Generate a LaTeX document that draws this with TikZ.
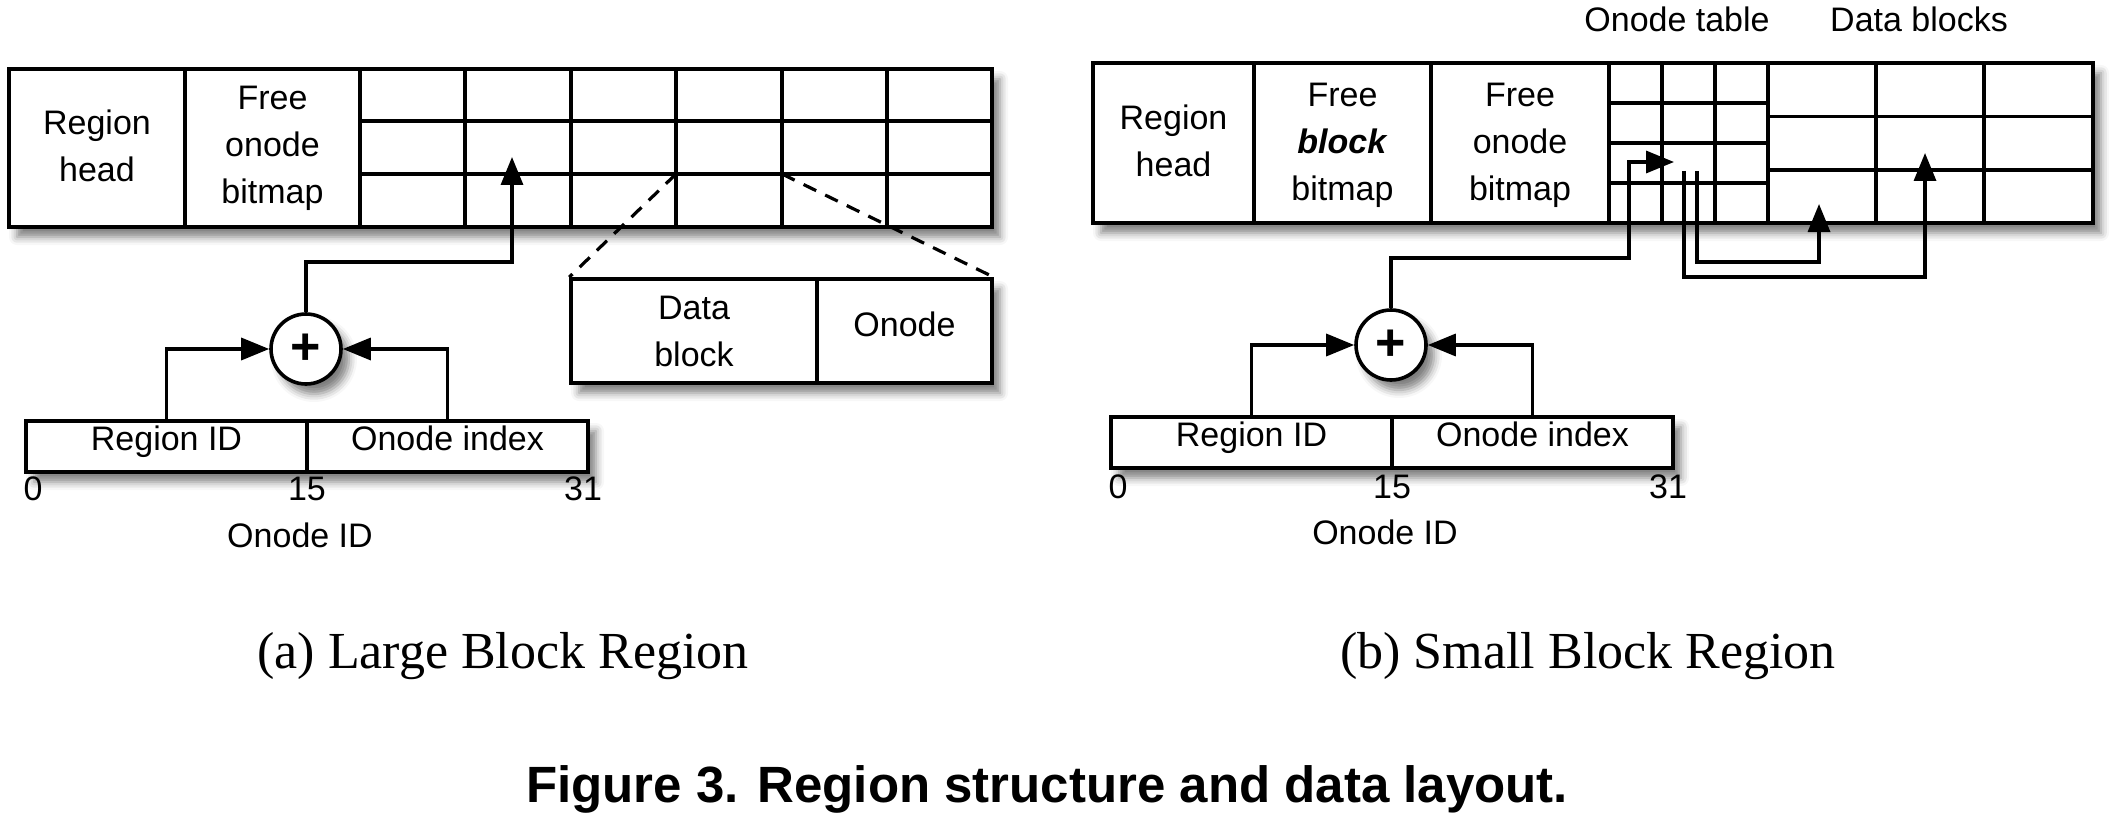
\documentclass[tikz,border=0pt]{standalone}
\usepackage{fontspec}
\setmainfont{Liberation Sans}
\newfontfamily\capfont{Liberation Serif}
\usetikzlibrary{arrows.meta,shadows.blur}

\newcommand{\dfont}{\fontsize{17pt}{23.5pt}\selectfont}

\tikzset{
  box/.style={draw, line width=1.8pt, fill=white, blur shadow={shadow xshift=4pt, shadow yshift=-5pt, shadow blur radius=4pt, shadow opacity=50}},
  gline/.style={line width=1.8pt},
  cell/.style={draw, line width=1.8pt, inner sep=0pt, font=\dfont},
  idcell/.style={cell, minimum width=140.5pt, minimum height=25.5pt, text height=12pt, text depth=8pt},
  lbl/.style={align=center, font=\dfont, inner sep=0pt},
  arr/.style={line width=1.7pt, fill opacity=1, -{Triangle[length=14pt,width=11pt,fill=black]}},
  dsh/.style={line width=1.6pt, dash pattern=on 7pt off 5pt},
  plus/.style={box, circle, minimum size=35pt, inner sep=0pt, font=\bfseries\fontsize{26pt}{26pt}\selectfont},
  capt/.style={anchor=base, font=\capfont\fontsize{26pt}{30pt}\selectfont},
}

\begin{document}
\begin{tikzpicture}[x=0.5pt,y=-0.5pt]
\useasboundingbox (0,0) rectangle (2112,818);

% (a) large block region
\draw[box] (9,69) rectangle (992,227);
\foreach \x in {185,360,465,571,676,782,887}
  \draw[gline] (\x,69) -- (\x,227);
\foreach \y in {121,174}
  \draw[gline] (360,\y) -- (992,\y);
\node[lbl] (ahead) at (97,146) {Region\\head};
\node[lbl] (afree) at (272.5,148) {Free\\onode\\bitmap};
\coordinate (atip) at (512,157);
\coordinate (acor1) at (676,174);
\coordinate (acor2) at (782,174);

\draw[box] (571,279) rectangle (992,383);
\node[cell, minimum width=123pt, minimum height=52pt, align=center] (adata) at (694,331) {Data\\block};
\node[cell, minimum width=87.5pt, minimum height=52pt, text height=12.5pt, text depth=7.5pt] (aonode) at (904.5,331) {Onode};
\draw[dsh] (acor1) -- (adata.north west);
\draw[dsh] (acor2) -- (aonode.north east);

\draw[box] (26,421) rectangle (588,472);
\node[idcell] (aregion) at (166.5,446.5) {Region ID};
\node[idcell] (aindex) at (447.5,446.5) {Onode index};
\node[plus] (aplus) at (306,349) {+};
\draw[arr] (aregion.north) |- (aplus.west);
\draw[arr] (aindex.north) |- (aplus.east);
\draw[arr] (aplus.north) |- (512,262) -- (atip);

\node[lbl, anchor=base] (a0) at (33,500) {0};
\node[lbl, anchor=base] (a15) at (307,500) {15};
\node[lbl, anchor=base] (a31) at (583,500) {31};
\node[lbl, anchor=base] (aid) at (300,547) {Onode ID};
\node[capt] (acap) at (503,668) {(a) Large Block Region};

% (b) small block region
\draw[box] (1093,63) rectangle (2093,223);
\foreach \x in {1254,1431,1609,1662,1715,1768,1876,1984}
  \draw[gline] (\x,63) -- (\x,223);
\foreach \y in {103,143,183}
  \draw[gline] (1609,\y) -- (1768,\y);
\foreach \y in {116.5,170}
  \draw[gline] (1768,\y) -- (2093,\y);
\node[lbl] (bhead) at (1173.5,141) {Region\\head};
\node[lbl] (bblock) at (1342.5,145) {Free\\\textbf{\textit{block}}\\bitmap};
\node[lbl] (bfree) at (1520,145) {Free\\onode\\bitmap};
\node[lbl, anchor=base] (btable) at (1677,32) {Onode table};
\node[lbl, anchor=base] (bdata) at (1919,32) {Data blocks};
\coordinate (btip1) at (1674,162);
\coordinate (bsrc1) at (1697,171);
\coordinate (btip2) at (1819,204);
\coordinate (bsrc2) at (1684,171);
\coordinate (btip3) at (1925,153);

\draw[box] (1111,417) rectangle (1673,468);
\node[idcell] (bregion) at (1251.5,442.5) {Region ID};
\node[idcell] (bindex) at (1532.5,442.5) {Onode index};
\node[plus] (bplus) at (1391,345) {+};
\draw[arr] (bregion.north) |- (bplus.west);
\draw[arr] (bindex.north) |- (bplus.east);
\draw[arr] (bplus.north) |- (1629,258) |- (btip1);
\draw[arr] (bsrc1) |- (1819,262) -- (btip2);
\draw[arr] (bsrc2) |- (1925,277) -- (btip3);

\node[lbl, anchor=base] (b0) at (1118,498) {0};
\node[lbl, anchor=base] (b15) at (1392,498) {15};
\node[lbl, anchor=base] (b31) at (1668,498) {31};
\node[lbl, anchor=base] (bid) at (1385,544) {Onode ID};
\node[capt] (bcap) at (1588,668) {(b) Small Block Region};

\node[anchor=base, font=\bfseries\fontsize{25.5pt}{30pt}\selectfont] (fig) at (1047,802) {Figure 3. Region structure and data layout.};
\end{tikzpicture}
\end{document}
